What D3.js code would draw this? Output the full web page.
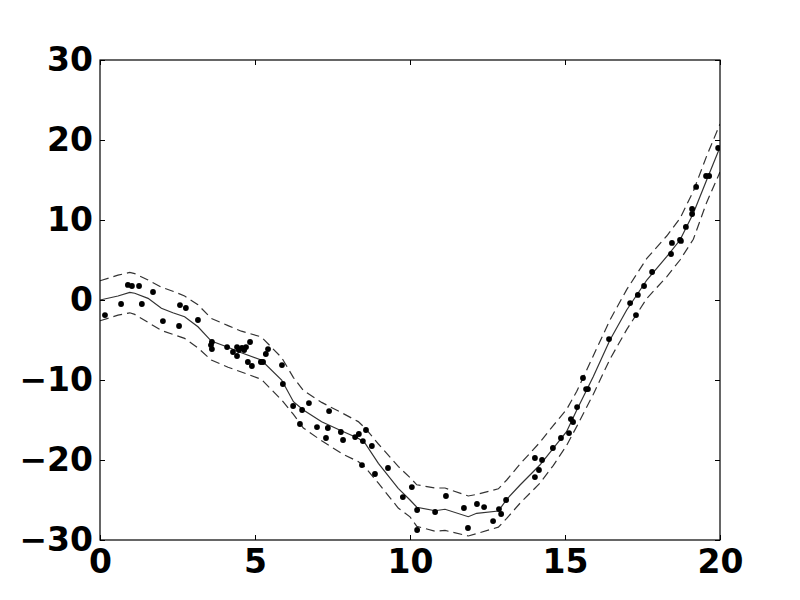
<!DOCTYPE html>
<html><head><meta charset="utf-8">
<script src="https://cdn.jsdelivr.net/npm/d3@7"></script>
<style>body{margin:0;background:#fff}svg{display:block}</style>
</head><body>
<script>
// observed points
const pointX = [0.16,0.68,0.90,1.03,1.26,1.35,1.71,2.03,2.55,2.58,2.77,3.16,3.61,3.58,3.61,4.10,4.29,4.42,4.42,4.48,4.58,4.65,4.71,4.84,4.77,4.90,5.19,5.26,5.35,5.42,5.87,5.90,6.23,6.52,6.74,7.39,6.45,7.00,7.35,7.29,7.77,7.84,8.23,8.35,8.58,8.48,8.77,8.45,8.87,9.29,9.77,10.06,10.23,10.23,10.81,11.16,11.74,11.87,12.16,12.39,12.68,12.87,12.94,13.10,14.03,14.16,14.03,14.26,14.61,14.87,15.13,15.19,15.26,15.39,15.58,15.68,15.74,16.42,17.10,17.29,17.35,17.55,17.81,18.42,18.45,18.71,18.74,18.90,19.10,19.10,19.23,19.55,19.65,19.94];
const pointY = [-1.88,-0.5,1.88,1.75,1.75,-0.5,1.0,-2.63,-3.25,-0.63,-1.0,-2.5,-5.25,-5.63,-6.13,-5.88,-6.5,-5.88,-7.0,-6.25,-6.0,-6.25,-5.88,-5.25,-7.75,-8.25,-7.75,-7.75,-6.75,-6.13,-8.13,-10.5,-13.25,-13.75,-12.88,-13.88,-15.5,-15.88,-16.0,-17.25,-16.5,-17.5,-17.13,-16.75,-16.25,-17.63,-18.25,-20.63,-21.75,-21.0,-24.63,-23.38,-26.25,-28.75,-26.5,-24.5,-26.0,-28.5,-25.5,-25.88,-27.63,-26.13,-26.75,-25.0,-19.75,-21.25,-22.13,-20.0,-18.5,-17.25,-16.63,-14.88,-15.25,-13.38,-9.75,-11.13,-11.13,-4.88,-0.38,-1.88,0.63,1.75,3.5,5.75,7.13,7.5,7.38,9.13,10.75,11.38,14.13,15.5,15.5,19.0];
// fitted curve and band
const curveX = [0,0.58,0.96,1.12,1.55,1.98,2.35,2.73,3.16,3.59,4.13,4.56,5.2,5.86,6.24,6.56,7.15,7.8,8.33,8.55,8.98,9.62,10.0,10.22,10.81,11.13,11.88,12.15,12.85,13.12,13.55,14.19,14.62,15.05,15.38,15.91,16.45,16.99,17.64,18.28,18.71,19.14,19.57,20];
const curveMean = [0,0.5,0.96,0.84,0.21,-1.04,-1.59,-2.09,-3.34,-5.13,-5.91,-6.59,-7.5,-10.0,-12.71,-13.75,-15.21,-16.38,-17.29,-17.91,-20.41,-23.54,-25.0,-25.91,-26.34,-26.16,-27.09,-26.66,-26.38,-24.91,-23.13,-20.63,-18.54,-16.46,-13.75,-9.59,-5.0,-1.25,2.5,5.41,7.5,10.84,15.0,19.1];
const curveUpper = [2.4,3.1,3.45,3.3,2.5,1.6,1.1,0.5,-0.6,-2.3,-3.2,-3.9,-4.6,-7.2,-9.7,-11.3,-12.8,-14.1,-15.2,-16.0,-18.0,-20.8,-22.2,-23.1,-23.5,-23.5,-24.5,-24.3,-23.6,-22.5,-20.5,-17.8,-15.7,-13.7,-11.4,-7.0,-2.5,1.3,5.2,8.0,10.2,13.6,18.0,22.0];
const curveLower = [-2.6,-1.9,-1.6,-1.8,-2.8,-3.8,-4.3,-4.8,-6.0,-7.5,-8.4,-9.0,-9.9,-12.5,-14.3,-16.0,-17.6,-19.2,-20.2,-20.9,-22.9,-26.0,-27.1,-28.3,-28.9,-28.8,-29.5,-29.2,-28.4,-27.3,-25.4,-22.9,-20.7,-18.2,-15.8,-11.8,-7.4,-3.7,0.2,2.9,5.0,7.6,12.2,16.0];
const xTicks = [0,5,10,15,20];
const yTicks = [-30,-20,-10,0,10,20,30];

const W = 800, H = 600;
const m = {l:100, r:80, t:60, b:60};
const svg = d3.select("body").append("svg").attr("width",W).attr("height",H);
const x = d3.scaleLinear().domain([0,20]).range([m.l, W-m.r]);
const y = d3.scaleLinear().domain([-30,30]).range([H-m.b, m.t]);

svg.append("clipPath").attr("id","c").append("rect")
  .attr("x",m.l).attr("y",m.t).attr("width",W-m.l-m.r).attr("height",H-m.t-m.b);
const g = svg.append("g").attr("clip-path","url(#c)");

const line = (ys) => d3.line().x((d,i)=>x(curveX[i])).y((d,i)=>y(ys[i]))(ys);
g.append("path").attr("d",line(curveUpper)).attr("fill","none").attr("stroke","#333").attr("stroke-width",1.2).attr("stroke-dasharray","9,5");
g.append("path").attr("d",line(curveLower)).attr("fill","none").attr("stroke","#333").attr("stroke-width",1.2).attr("stroke-dasharray","9,5");
g.append("path").attr("d",line(curveMean)).attr("fill","none").attr("stroke","#333").attr("stroke-width",1.2);

g.selectAll("circle").data(pointX).enter().append("circle")
  .attr("cx",(d)=>x(d)).attr("cy",(d,i)=>y(pointY[i])).attr("r",2.9).attr("fill","#000");

// frame
svg.append("rect").attr("x",m.l).attr("y",m.t).attr("width",W-m.l-m.r).attr("height",H-m.t-m.b)
  .attr("fill","none").attr("stroke","#000").attr("stroke-width",1.2);

const font = "DejaVu Sans";
const axB = svg.append("g").attr("transform",`translate(0,${H-m.b})`)
  .call(d3.axisBottom(x).tickValues(xTicks).tickSize(-5).tickPadding(10).tickFormat(d3.format("d")));
const axT = svg.append("g").attr("transform",`translate(0,${m.t})`)
  .call(d3.axisTop(x).tickValues(xTicks).tickSize(-5).tickFormat(""));
const axL = svg.append("g").attr("transform",`translate(${m.l},0)`)
  .call(d3.axisLeft(y).tickValues(yTicks).tickSize(-5).tickPadding(7).tickFormat(d=>d<0?"\u2212"+Math.abs(d):d));
const axR = svg.append("g").attr("transform",`translate(${W-m.r},0)`)
  .call(d3.axisRight(y).tickValues(yTicks).tickSize(-5).tickFormat(""));
[axB,axT,axL,axR].forEach(a=>{
  a.select(".domain").remove();
  a.selectAll("line").attr("stroke","#000");
  a.selectAll("text").attr("font-family",font).attr("font-weight","bold").attr("font-size",33).attr("fill","#000");
});
axB.selectAll("text").attr("dy","0.71em");
</script>
</body></html>
